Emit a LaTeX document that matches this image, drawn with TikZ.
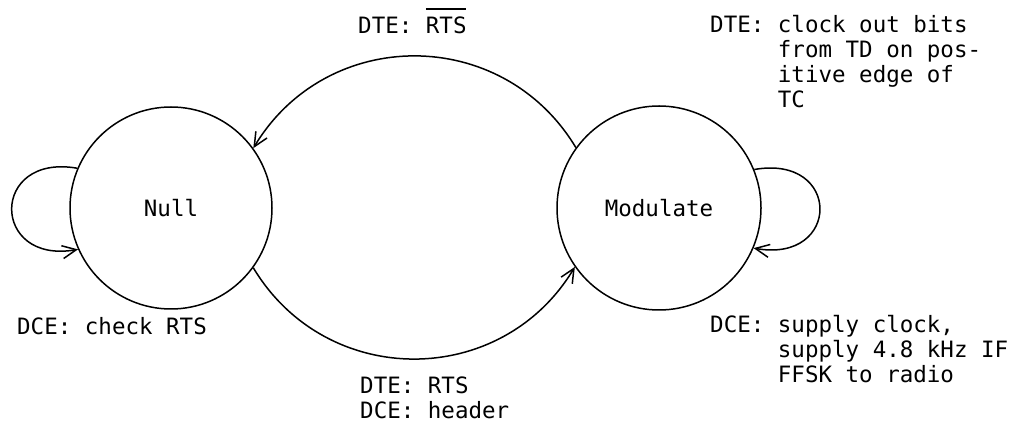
\documentclass[tikz,border=0pt]{standalone}
\usepackage{fontspec}
\setmonofont{DejaVu Sans Mono}
\usetikzlibrary{arrows.meta}
\begin{document}
\begin{tikzpicture}[x=1pt,y=1pt,
  lbl/.style={font=\ttfamily\fontsize{22.5}{25}\selectfont, inner sep=0pt},
  state/.style={circle,draw,line width=1.5pt,inner sep=0pt,lbl},
  edge/.style={line width=1.5pt,-{Straight Barb[length=14pt,width=13pt,line width=1.5pt]}}
]
\useasboundingbox (0,0) rectangle (1016,425);
\node[state,minimum size=202pt] (null) at (171,217) {Null};
\node[state,minimum size=204pt] (mod) at (659,217) {Modulate};
\draw[edge] (mod.144.5) to[out=121,in=59,looseness=1.13] (null.36);
\draw[edge] (null.324) to[out=301,in=239,looseness=1.13] (mod.215.5);
\draw[edge] (null.157) .. controls +(170:89) and +(190:89) .. (null.204);
\draw[edge] (mod.22.5) .. controls +(10:89) and +(350:89) .. (mod.337.5);
\node[lbl,anchor=base west] (toplbl) at (358,391) {DTE: \makebox[0pt][l]{\rule[24pt]{40pt}{1.5pt}}RTS};
\node[lbl,anchor=base west] (botlbl) at (360,31) {\begin{tabular}[t]{@{}l@{}}DTE: RTS\\DCE: header\end{tabular}};
\node[lbl,anchor=base west] (nulllbl) at (17,90) {DCE: check RTS};
\node[lbl,anchor=base west] (modtop) at (710,392) {\begin{tabular}[t]{@{}l@{}l@{}}DTE:\mbox{\ } & clock out bits\\ & from TD on pos-\\ & itive edge of\\ & TC\end{tabular}};
\node[lbl,anchor=base west] (modbot) at (710,92) {\begin{tabular}[t]{@{}l@{}l@{}}DCE:\mbox{\ } & supply clock,\\ & supply 4.8 kHz IF\\ & FFSK to radio\end{tabular}};
\end{tikzpicture}
\end{document}
